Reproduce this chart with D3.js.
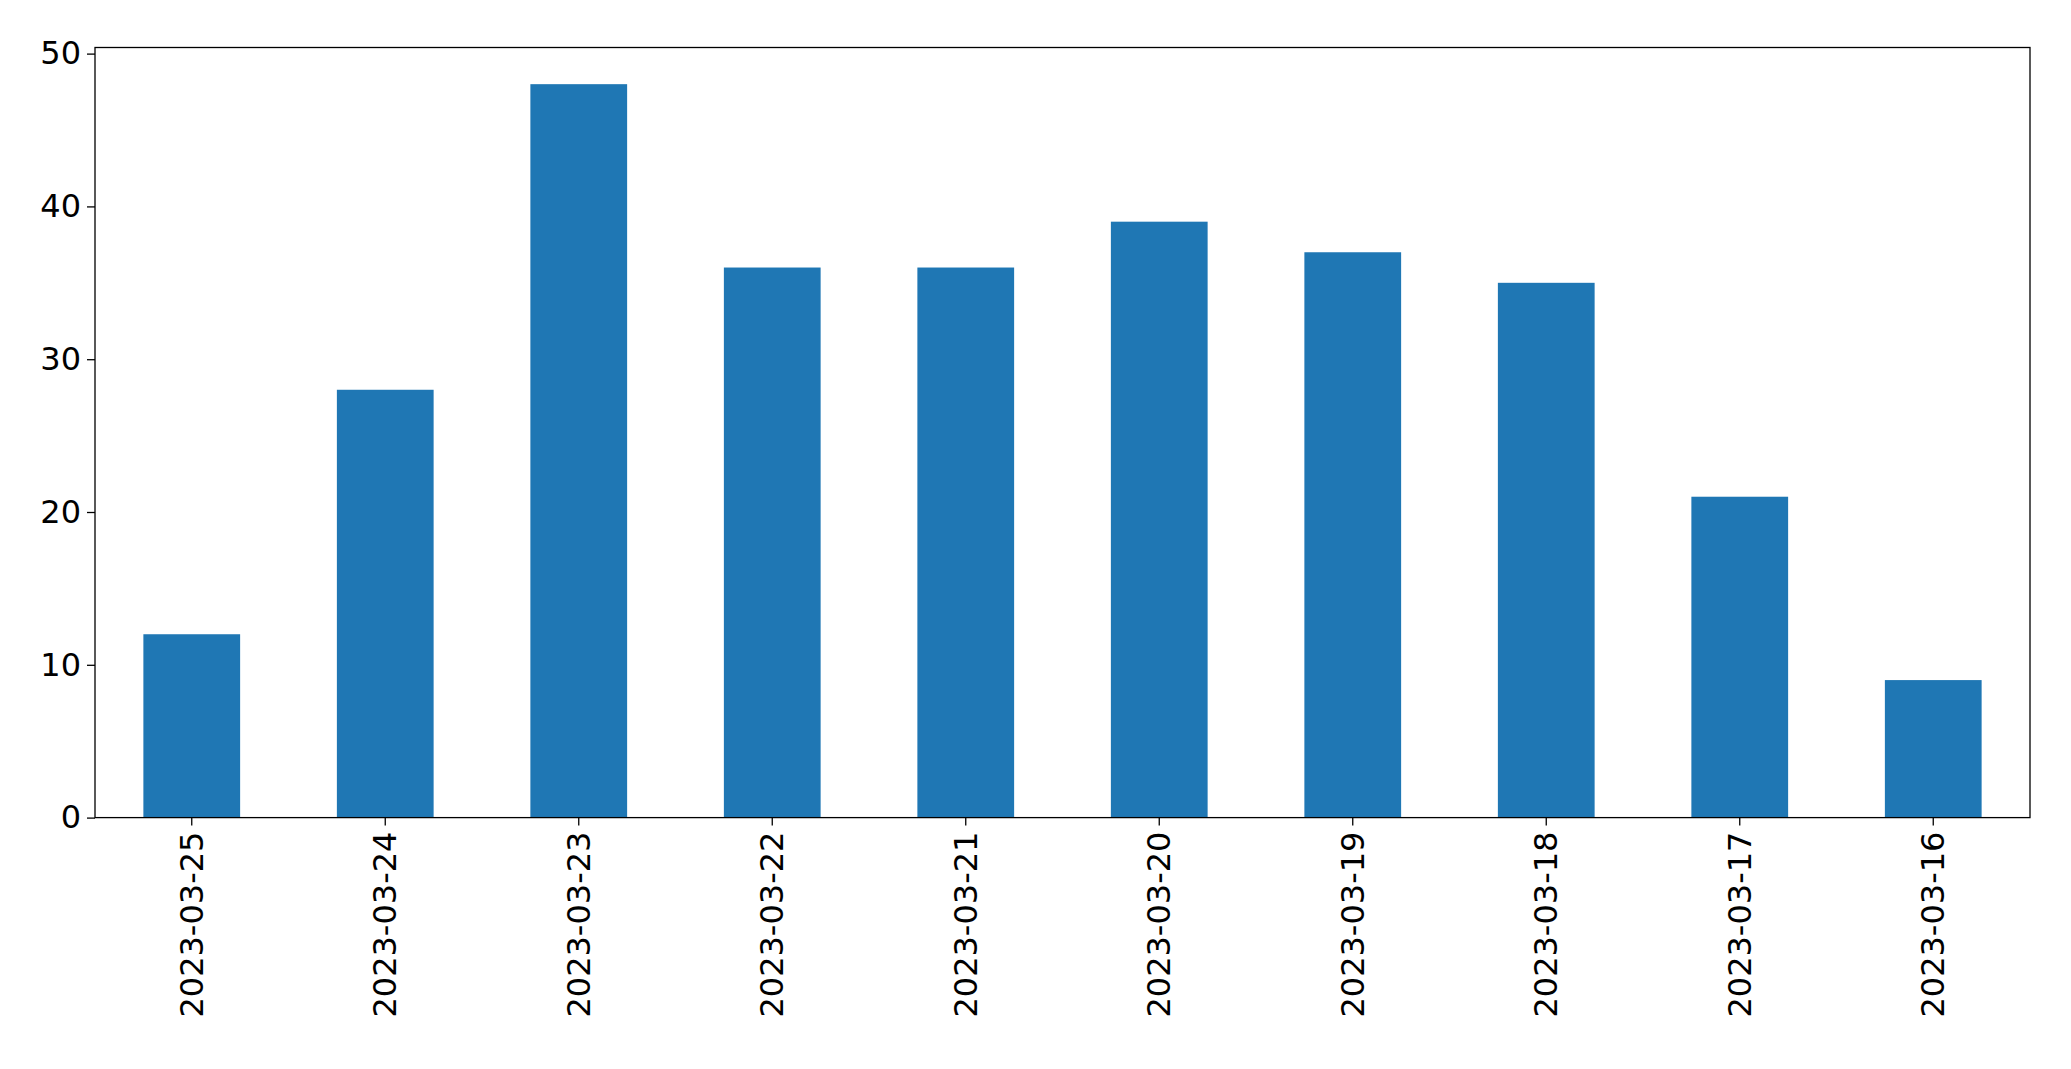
<!DOCTYPE html>
<html><head><meta charset="utf-8">
<script src="https://cdn.jsdelivr.net/npm/d3@7"></script>
<style>body{margin:0;background:#fff}</style></head>
<body><svg id="c" width="2071" height="1069"></svg>
<script>
const categories = ["2023-03-25","2023-03-24","2023-03-23","2023-03-22","2023-03-21","2023-03-20","2023-03-19","2023-03-18","2023-03-17","2023-03-16"];
const values = [12,28,48,36,36,39,37,35,21,9];
const yTicks = [0,10,20,30,40,50];

const m = {l:95, r:2071-2030, t:47.5, b:1069-817.6};
const W = 2071, H = 1069;
const svg = d3.select("#c");
const x = d3.scaleBand().domain(categories).range([m.l, W-m.r]).paddingInner(0.5).paddingOuter(0.25);
const y = d3.scaleLinear().domain([0, 50.4]).range([H-m.b, m.t]);

svg.append("g").selectAll("rect").data(values).join("rect")
  .attr("x",(d,i)=>x(categories[i])).attr("width",x.bandwidth())
  .attr("y",d=>y(d)).attr("height",d=>y(0)-y(d)).attr("fill","#1f77b4");

const font = "DejaVu Sans, sans-serif";
const gx = svg.append("g").attr("transform",`translate(0,${H-m.b})`)
  .call(d3.axisBottom(x).tickSize(8).tickSizeOuter(0).tickPadding(6));
gx.selectAll("text").attr("font-size",32).attr("font-family",font).attr("fill","#000")
  .attr("transform","rotate(-90)").attr("text-anchor","end").attr("dy","0.35em").attr("x",-14).attr("y",0);
const gy = svg.append("g").attr("transform",`translate(${m.l},0)`)
  .call(d3.axisLeft(y).tickValues(yTicks).tickSize(8).tickSizeOuter(0).tickPadding(6));
gy.selectAll("text").attr("font-size",32).attr("font-family",font).attr("fill","#000");
svg.selectAll(".domain").remove();
svg.selectAll(".tick line").attr("stroke","#000").attr("stroke-width",1.3);
svg.append("rect").attr("x",m.l).attr("y",m.t).attr("width",W-m.r-m.l).attr("height",H-m.b-m.t)
  .attr("fill","none").attr("stroke","#000").attr("stroke-width",1.3);
</script></body></html>
